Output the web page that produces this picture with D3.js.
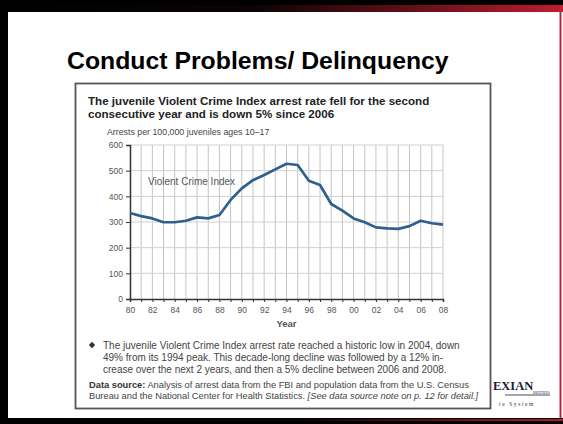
<!DOCTYPE html>
<html><head><meta charset="utf-8">
<script src="https://cdn.jsdelivr.net/npm/d3@7"></script>
<style>html,body{margin:0;padding:0;background:#fff;}svg{display:block;}</style>
</head><body>
<script>
// ---- data ----
const years = [1980,1981,1982,1983,1984,1985,1986,1987,1988,1989,1990,1991,1992,1993,1994,1995,1996,1997,1998,1999,2000,2001,2002,2003,2004,2005,2006,2007,2008];
const rates = [335,323,314,299,299,305,318,314,327,386,431,463,483,505,527,522,461,444,370,344,314,299,279,275,273,284,305,295,290];
const yTicks = [0,100,200,300,400,500,600];
const xLabelYears = [1980,1982,1984,1986,1988,1990,1992,1994,1996,1998,2000,2002,2004,2006,2008];
const slideTitle = "Conduct Problems/ Delinquency";
const headline = ["The juvenile Violent Crime Index arrest rate fell for the second","consecutive year and is down 5% since 2006"];
const yAxisTitle = "Arrests per 100,000 juveniles ages 10\u201317";
const seriesLabel = "Violent Crime Index";
const xAxisTitle = "Year";
const bulletLines = ["The juvenile Violent Crime Index arrest rate reached a historic low in 2004, down","49% from its 1994 peak. This decade-long decline was followed by a 12% in-","crease over the next 2 years, and then a 5% decline between 2006 and 2008."];

const W = 563, H = 424;
const FONT = "'Liberation Sans', Arial, Helvetica, sans-serif";
const svg = d3.select("body").append("svg").attr("width", W).attr("height", H);

// slide frame
const defs = svg.append("defs");
const g1 = defs.append("linearGradient").attr("id","topg").attr("x1","0").attr("x2","1").attr("y1","0").attr("y2","0");
g1.append("stop").attr("offset","0").attr("stop-color","#000");
g1.append("stop").attr("offset","0.45").attr("stop-color","#0a0404");
g1.append("stop").attr("offset","0.75").attr("stop-color","#6a1018");
g1.append("stop").attr("offset","1").attr("stop-color","#c01c30");
const g2 = defs.append("linearGradient").attr("id","botg").attr("x1","0").attr("x2","1").attr("y1","0").attr("y2","0");
g2.append("stop").attr("offset","0").attr("stop-color","#000");
g2.append("stop").attr("offset","0.55").attr("stop-color","#100405");
g2.append("stop").attr("offset","1").attr("stop-color","#b01a2c");

svg.append("rect").attr("x",0).attr("y",0).attr("width",W).attr("height",H).attr("fill","#fff");
svg.append("rect").attr("x",0).attr("y",0).attr("width",W).attr("height",12).attr("fill","url(#topg)");
svg.append("rect").attr("x",0).attr("y",0).attr("width",W).attr("height",5).attr("fill","#000");
svg.append("rect").attr("x",0).attr("y",0).attr("width",8).attr("height",H).attr("fill","#000");
svg.append("rect").attr("x",559.5).attr("y",5).attr("width",2).attr("height",H).attr("fill","#b8283a");
svg.append("rect").attr("x",0).attr("y",418).attr("width",W).attr("height",6).attr("fill","#000");
svg.append("rect").attr("x",0).attr("y",419).attr("width",W).attr("height",2).attr("fill","url(#botg)");

// logo (partially hidden behind the box)
svg.append("text").attr("x",493).attr("y",390).attr("font-family","'Liberation Serif', 'DejaVu Serif', serif")
  .attr("font-weight","bold").attr("font-size",12.5).attr("fill","#1c1c3c").text("EXIAN");
svg.append("line").attr("x1",505).attr("x2",550).attr("y1",395).attr("y2",395).attr("stroke","#1c1c3c").attr("stroke-width",0.8);
svg.append("text").attr("x",533).attr("y",394).attr("font-family","'Liberation Serif', serif")
  .attr("font-size",3.2).attr("fill","#1c1c3c").text("BROTHERS");
svg.append("text").attr("x",499).attr("y",406).attr("font-family","'Liberation Serif', serif")
  .attr("font-size",5.5).attr("fill","#333").attr("letter-spacing",1.6).text("te  System");

// slide title
svg.append("text").attr("x",67).attr("y",69).attr("font-family",FONT).attr("font-weight","bold")
  .attr("font-size",24.8).attr("fill","#000").text(slideTitle);

// figure box
svg.append("rect").attr("x",75.5).attr("y",83.5).attr("width",415).attr("height",325)
  .attr("fill","#fff").attr("stroke","#555").attr("stroke-width",1.8);

// headline
svg.append("g").selectAll("text").data(headline).join("text")
  .attr("x",88).attr("y",(d,i)=>105+i*13).attr("font-family",FONT).attr("font-weight","bold")
  .attr("font-size",11.6).attr("fill","#222").text(d=>d);

svg.append("text").attr("x",107).attr("y",135).attr("font-family",FONT).attr("font-size",8.8)
  .attr("fill","#444").text(yAxisTitle);

// scales
const x = d3.scaleLinear().domain([1980,2008]).range([130,443]);
const y = d3.scaleLinear().domain([0,600]).range([299,145]);

// grid
const grid = svg.append("g");
grid.selectAll("line.v").data(years.slice(1)).join("line").attr("class","v")
  .attr("x1",d=>x(d)).attr("x2",d=>x(d)).attr("y1",y(600)).attr("y2",y(0))
  .attr("stroke","#c4c4c4").attr("stroke-width",1);
grid.selectAll("line.h").data(yTicks.slice(1)).join("line").attr("class","h")
  .attr("x1",x(1980)).attr("x2",x(2008)).attr("y1",d=>y(d)).attr("y2",d=>y(d))
  .attr("stroke","#d0d0d0").attr("stroke-width",1);

// axes
const yAxis = svg.append("g").attr("transform",`translate(${x(1980)},0)`)
  .call(d3.axisLeft(y).tickValues(yTicks).tickSize(4).tickPadding(3));
yAxis.select(".domain").attr("stroke","#333").attr("stroke-width",1.5);
yAxis.selectAll(".tick line").attr("stroke","#333");
yAxis.selectAll("text").attr("font-family",FONT).attr("font-size",8.5).attr("fill","#555");

const xAxis = svg.append("g").attr("transform",`translate(0,${y(0)})`)
  .call(d3.axisBottom(x).tickValues(years).tickSize(3).tickPadding(5)
    .tickFormat(d=> xLabelYears.includes(d) ? String(d).slice(2) : ""));
xAxis.select(".domain").attr("stroke","#333").attr("stroke-width",1.5);
xAxis.selectAll(".tick line").attr("stroke","#333");
xAxis.selectAll("text").attr("font-family",FONT).attr("font-size",8.5).attr("fill","#555");

svg.append("text").attr("x",(x(1980)+x(2008))/2).attr("y",327).attr("text-anchor","middle")
  .attr("font-family",FONT).attr("font-weight","bold").attr("font-size",9.5).attr("fill","#555").text(xAxisTitle);

// line
const line = d3.line().x((d,i)=>x(years[i])).y(d=>y(d)).curve(d3.curveLinear);
svg.append("path").datum(rates).attr("d",line).attr("fill","none")
  .attr("stroke","#2f5f8e").attr("stroke-width",2.7).attr("stroke-linejoin","round");

svg.append("text").attr("x",148).attr("y",185).attr("font-family",FONT).attr("font-size",10)
  .attr("fill","#555").text(seriesLabel);

// bullet
svg.append("path").attr("d",d3.symbol(d3.symbolDiamond2,26)()).attr("transform","translate(92,345)").attr("fill","#333");
svg.append("g").selectAll("text").data(bulletLines).join("text")
  .attr("x",103).attr("y",(d,i)=>348.5+i*12).attr("font-family",FONT).attr("font-size",10)
  .attr("fill","#444").text(d=>d);

// data source
const ds = svg.append("text").attr("x",89).attr("y",387.5).attr("font-family",FONT).attr("font-size",9.3).attr("fill","#444");
ds.append("tspan").attr("font-weight","bold").attr("fill","#333").text("Data source:");
ds.append("tspan").text(" Analysis of arrest data from the FBI and population data from the U.S. Census");
const ds2 = svg.append("text").attr("x",89).attr("y",399).attr("font-family",FONT).attr("font-size",9.3).attr("fill","#444");
ds2.append("tspan").text("Bureau and the National Center for Health Statistics. ");
ds2.append("tspan").attr("font-style","italic").text("[See data source note on p. 12 for detail.]");
</script>
</body></html>
